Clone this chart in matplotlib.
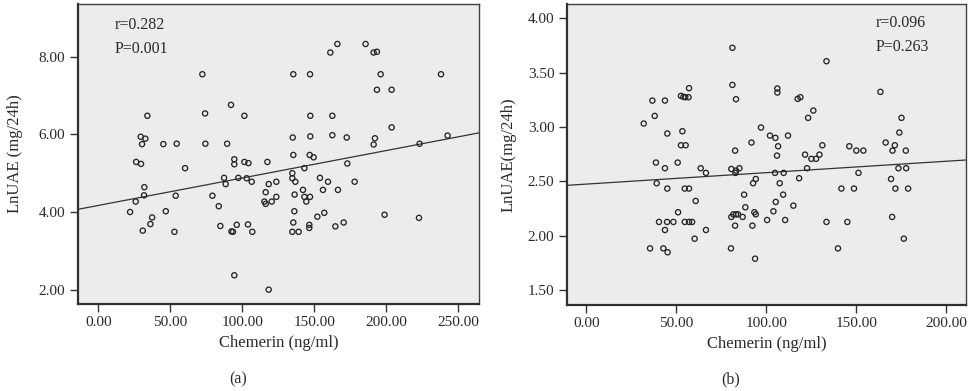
import matplotlib
matplotlib.use("Agg")
import matplotlib.pyplot as plt
import numpy as np

# ---------------- data: panel (a) ----------------
chem_a = [72.2, 135.4, 147.0, 166.0, 161.1, 185.6, 191.2, 193.5, 196.1, 193.5,
          203.7, 238.0, 203.7, 92.1, 74.1, 101.4, 34.0, 147.2, 162.5, 29.4,
          32.6, 30.3, 45.1, 54.4, 74.3, 89.4, 135.0, 147.2, 162.5, 172.5,
          192.1, 191.2, 223.1, 242.6, 26.2, 29.6, 60.2, 94.4, 94.4, 101.4,
          104.2, 117.4, 135.4, 146.8, 149.5, 143.1, 172.9, 134.7, 134.7, 136.8,
          153.9, 159.5, 178.0, 87.3, 88.4, 97.2, 103.0, 106.5, 118.3, 123.6,
          31.9, 25.9, 31.7, 53.7, 79.2, 83.6, 116.2, 115.3, 116.2, 120.4,
          123.6, 136.3, 142.1, 143.1, 144.4, 147.0, 156.0, 166.4, 22.0, 37.3,
          36.1, 30.8, 46.8, 52.8, 84.7, 92.4, 93.5, 96.1, 103.9, 106.9,
          136.1, 135.4, 134.7, 139.1, 146.5, 146.5, 156.9, 152.1, 164.6, 170.4,
          198.8, 222.7, 94.4, 118.3]
uae_a = [7.55, 7.55, 7.55, 8.33, 8.11, 8.33, 8.11, 8.13, 7.55, 7.15,
         7.15, 7.55, 6.18, 6.76, 6.54, 6.48, 6.48, 6.48, 6.48, 5.94,
         5.89, 5.75, 5.75, 5.76, 5.76, 5.76, 5.92, 5.95, 5.98, 5.92,
         5.90, 5.74, 5.76, 5.97, 5.29, 5.24, 5.13, 5.36, 5.23, 5.29,
         5.26, 5.29, 5.47, 5.47, 5.41, 5.13, 5.25, 5.00, 4.87, 4.78,
         4.88, 4.78, 4.78, 4.88, 4.72, 4.88, 4.87, 4.78, 4.72, 4.78,
         4.64, 4.27, 4.43, 4.42, 4.42, 4.15, 4.51, 4.27, 4.21, 4.27,
         4.39, 4.45, 4.57, 4.39, 4.27, 4.39, 4.57, 4.57, 4.00, 3.86,
         3.69, 3.52, 4.02, 3.49, 3.64, 3.50, 3.49, 3.67, 3.68, 3.49,
         4.02, 3.73, 3.49, 3.49, 3.67, 3.59, 3.98, 3.88, 3.63, 3.73,
         3.93, 3.85, 2.37, 2.00]
fit_a = (4.17, 0.00707)          # intercept, slope
stats_a = ["r=0.282", "P=0.001"]

# ---------------- data: panel (b) ----------------
chem_b = [81.2, 133.5, 81.2, 57.1, 83.2, 106.2, 106.2, 117.5, 119.0, 163.5,
          36.7, 43.7, 52.6, 54.0, 55.0, 56.8, 31.9, 38.0, 126.2, 123.3,
          175.2, 45.0, 53.4, 97.1, 102.1, 105.1, 112.1, 174.0, 91.8, 52.6,
          55.2, 82.7, 106.6, 131.2, 146.2, 150.1, 154.0, 166.4, 170.2, 171.5,
          177.6, 38.7, 50.8, 106.0, 121.6, 125.1, 127.7, 129.6, 43.7, 63.6,
          66.5, 80.6, 82.9, 83.2, 85.1, 104.9, 109.7, 122.7, 151.3, 173.5,
          177.8, 39.1, 45.0, 54.7, 57.1, 92.7, 94.2, 107.5, 118.3, 169.4,
          141.8, 148.8, 171.8, 178.9, 60.8, 87.7, 109.4, 105.3, 88.4, 115.1,
          104.0, 51.0, 40.4, 44.9, 48.4, 54.7, 57.1, 58.8, 80.6, 81.7,
          83.2, 84.3, 86.9, 93.4, 94.2, 100.5, 110.5, 82.7, 92.3, 133.5,
          145.1, 170.0, 43.7, 66.5, 60.2, 176.5, 35.4, 42.8, 45.2, 80.4,
          139.9, 93.8]
uae_b = [3.727, 3.604, 3.386, 3.356, 3.255, 3.353, 3.316, 3.258, 3.273, 3.322,
         3.242, 3.242, 3.285, 3.276, 3.273, 3.273, 3.031, 3.101, 3.150, 3.083,
         3.083, 2.939, 2.960, 2.994, 2.920, 2.899, 2.920, 2.948, 2.856, 2.831,
         2.831, 2.782, 2.822, 2.831, 2.822, 2.782, 2.782, 2.856, 2.782, 2.831,
         2.782, 2.672, 2.672, 2.736, 2.745, 2.706, 2.706, 2.745, 2.620, 2.620,
         2.577, 2.613, 2.577, 2.598, 2.620, 2.577, 2.577, 2.620, 2.577, 2.620,
         2.620, 2.482, 2.433, 2.433, 2.433, 2.482, 2.521, 2.482, 2.528, 2.521,
         2.433, 2.433, 2.433, 2.433, 2.319, 2.377, 2.377, 2.310, 2.261, 2.276,
         2.224, 2.215, 2.126, 2.126, 2.126, 2.126, 2.126, 2.126, 2.172, 2.196,
         2.196, 2.196, 2.172, 2.215, 2.196, 2.144, 2.144, 2.092, 2.092, 2.126,
         2.126, 2.172, 2.052, 2.052, 1.972, 1.972, 1.883, 1.883, 1.847, 1.883,
         1.883, 1.788]
fit_b = (2.474, 0.00105)
stats_b = ["r=0.096", "P=0.263"]

xticks_a = [0, 50, 100, 150, 200, 250]
yticks_a = [2, 4, 6, 8]
xticks_b = [0, 50, 100, 150, 200]
yticks_b = [1.5, 2.0, 2.5, 3.0, 3.5, 4.0]

# ---------------- figure ----------------
plt.rcParams['font.family'] = ['Liberation Serif', 'DejaVu Serif']
W, H = 975, 391
fig = plt.figure(figsize=(W / 100, H / 100), dpi=100)

TXT = '#2a2a2a'

def px_axes(l, t, r, b):
    return fig.add_axes([l / W, 1 - b / H, (r - l) / W, (b - t) / H])

def style(ax, xt, yt, xlim, ylim, ylabel, ypad):
    ax.set_facecolor('#ececec')
    ax.set_xlim(*xlim)
    ax.set_ylim(*ylim)
    ax.set_xticks(xt)
    ax.set_yticks(yt)
    ax.set_xticklabels([f"{v:.2f}" for v in xt])
    ax.set_yticklabels([f"{v:.2f}" for v in yt])
    ax.tick_params(direction='out', length=6, width=1, colors='#333333',
                   labelsize=11, labelcolor=TXT, pad=3)
    for s in ('left', 'bottom'):
        ax.spines[s].set_linewidth(1.6)
        ax.spines[s].set_color('#303030')
    for s in ('top', 'right'):
        ax.spines[s].set_linewidth(1.0)
        ax.spines[s].set_color('#404040')
    ax.set_xlabel('Chemerin (ng/ml)', fontsize=12, color=TXT, labelpad=4)
    ax.set_ylabel(ylabel, fontsize=12, color=TXT, labelpad=ypad)

# panel (a)
ax1 = px_axes(77.7, 4, 479, 304)
style(ax1, xticks_a, yticks_a, (-14.4, 264.4), (1.63, 9.36), 'LnUAE (mg/24h)', 11)
ax1.scatter(chem_a, uae_a, s=14, facecolors='none', edgecolors='#262626',
            linewidths=0.95, zorder=3)
ax1.axline((0, fit_a[0]), slope=fit_a[1], color='#333333', lw=0.9, zorder=2)
ax1.text(0.093, 0.93, stats_a[0], transform=ax1.transAxes, fontsize=11.5,
         color=TXT, va='center', ha='left')
ax1.text(0.093, 0.849, stats_a[1], transform=ax1.transAxes, fontsize=11.5,
         color=TXT, va='center', ha='left')

# panel (b)
ax2 = px_axes(567, 4, 965.7, 304.7)
style(ax2, xticks_b, yticks_b, (-10.75, 210.9), (1.365, 4.13), 'LnUAE(mg/24h)', 8)
ax2.scatter(chem_b, uae_b, s=14, facecolors='none', edgecolors='#262626',
            linewidths=0.95, zorder=3)
ax2.axline((0, fit_b[0]), slope=fit_b[1], color='#333333', lw=0.9, zorder=2)
ax2.text(0.775, 0.936, stats_b[0], transform=ax2.transAxes, fontsize=11.5,
         color=TXT, va='center', ha='left')
ax2.text(0.775, 0.858, stats_b[1], transform=ax2.transAxes, fontsize=11.5,
         color=TXT, va='center', ha='left')

fig.text(238 / W, 1 - 379 / H, '(a)', fontsize=11.5, color=TXT, ha='center', va='center')
fig.text(730.7 / W, 1 - 379 / H, '(b)', fontsize=11.5, color=TXT, ha='center', va='center')

fig.savefig('out.png', dpi=100)
